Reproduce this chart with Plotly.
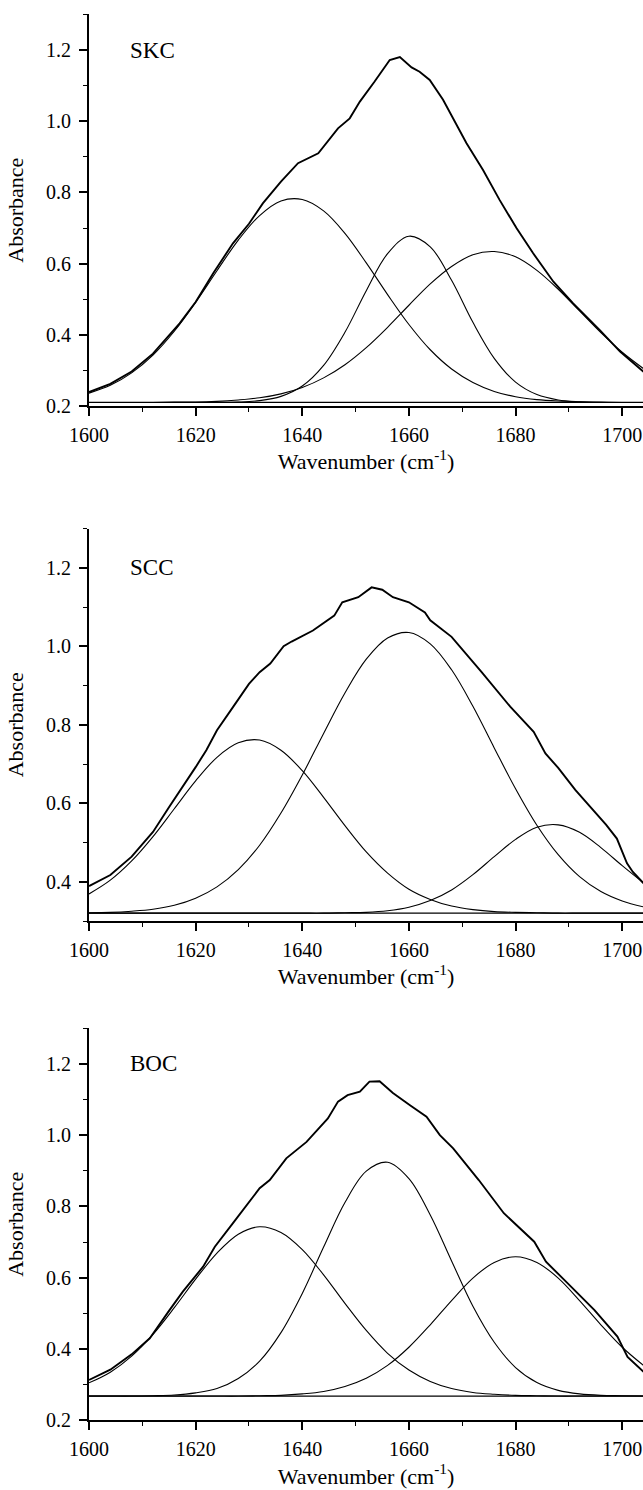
import plotly.graph_objects as go

# ---------------- data ----------------
panel_names = ["SKC", "SCC", "BOC"]

# common wavenumber grid for the fitted component bands
wavenumber = [1600, 1604, 1608, 1612, 1616, 1620, 1624, 1628, 1632, 1636,
              1640, 1644, 1648, 1652, 1656, 1660, 1664, 1668, 1672, 1676,
              1680, 1684, 1688, 1692, 1696, 1700, 1704]

# ---- SKC ----
skc_exp_x = [1600, 1604, 1608, 1612, 1617, 1620, 1623.3, 1627, 1630, 1632.6,
             1636, 1639.2, 1643, 1646.7, 1648.9, 1650.8, 1653.5, 1656.4, 1658.3,
             1660.5, 1662, 1663.9, 1666.4, 1668.5, 1670.8, 1673.9, 1677, 1680.2,
             1683.3, 1687.1, 1690.8, 1695.8, 1699.6, 1704]
skc_exp_y = [0.239, 0.262, 0.297, 0.347, 0.432, 0.492, 0.573, 0.657, 0.712, 0.769,
             0.830, 0.882, 0.910, 0.980, 1.008, 1.055, 1.110, 1.172, 1.180,
             1.151, 1.139, 1.116, 1.060, 1.000, 0.938, 0.863, 0.779, 0.699,
             0.629, 0.549, 0.488, 0.413, 0.353, 0.296]
skc_band1 = [0.236, 0.258, 0.293, 0.343, 0.410, 0.491, 0.580, 0.666, 0.735, 0.776,
             0.780, 0.748, 0.685, 0.602, 0.513, 0.429, 0.358, 0.304, 0.266, 0.241,
             0.226, 0.218, 0.214, 0.212, 0.211, 0.210, 0.210]
skc_band2 = [0.210, 0.210, 0.210, 0.210, 0.210, 0.210, 0.210, 0.211, 0.215, 0.227,
             0.256, 0.314, 0.407, 0.524, 0.628, 0.677, 0.647, 0.553, 0.435, 0.334,
             0.267, 0.232, 0.217, 0.212, 0.210, 0.210, 0.210]
skc_band3 = [0.210, 0.210, 0.210, 0.210, 0.211, 0.211, 0.213, 0.217, 0.223, 0.234,
             0.252, 0.279, 0.316, 0.364, 0.421, 0.483, 0.543, 0.592, 0.625, 0.634,
             0.619, 0.581, 0.528, 0.467, 0.406, 0.351, 0.305]

# ---- SCC ----
scc_exp_x = [1600, 1604, 1608, 1612, 1615, 1618, 1620, 1622, 1624, 1627,
             1630, 1632, 1634, 1636.5, 1638, 1642, 1646, 1647.5, 1650.5, 1653,
             1655, 1657, 1660, 1663, 1664, 1668, 1673.6, 1679, 1683.4, 1685.6,
             1688, 1691.2, 1695, 1697, 1699, 1700.9, 1702, 1704]
scc_exp_y = [0.389, 0.417, 0.464, 0.527, 0.590, 0.650, 0.692, 0.735, 0.786, 0.845,
             0.904, 0.934, 0.956, 1.000, 1.012, 1.040, 1.078, 1.112, 1.125, 1.150,
             1.144, 1.125, 1.112, 1.086, 1.066, 1.024, 0.935, 0.846, 0.782, 0.727,
             0.690, 0.634, 0.574, 0.545, 0.510, 0.447, 0.425, 0.396]
scc_band1 = [0.369, 0.404, 0.453, 0.515, 0.586, 0.657, 0.717, 0.754, 0.761, 0.735,
             0.683, 0.615, 0.543, 0.476, 0.422, 0.381, 0.355, 0.338, 0.329, 0.324,
             0.322, 0.321, 0.320, 0.320, 0.320, 0.320, 0.320]
scc_band2 = [0.321, 0.322, 0.325, 0.330, 0.340, 0.358, 0.387, 0.431, 0.493, 0.575,
             0.672, 0.778, 0.881, 0.967, 1.021, 1.035, 1.006, 0.940, 0.847, 0.741,
             0.637, 0.544, 0.469, 0.413, 0.375, 0.351, 0.336]
scc_band3 = [0.320, 0.320, 0.320, 0.320, 0.320, 0.320, 0.320, 0.320, 0.320, 0.320,
             0.320, 0.320, 0.321, 0.322, 0.326, 0.335, 0.352, 0.379, 0.418, 0.464,
             0.508, 0.539, 0.545, 0.526, 0.487, 0.441, 0.397]

# ---- BOC ----
boc_exp_x = [1600, 1604, 1608, 1611.4, 1615.1, 1617.6, 1621.4, 1623.6, 1627, 1629.5,
             1632, 1633.9, 1637, 1640.8, 1644.8, 1646.7, 1648.5, 1650.8, 1652.6,
             1654.5, 1657, 1660.2, 1663.3, 1665.8, 1668.3, 1673.1, 1677.8, 1683.5,
             1685.7, 1690.4, 1694.8, 1699.1, 1701, 1704]
boc_exp_y = [0.313, 0.342, 0.385, 0.430, 0.509, 0.561, 0.631, 0.687, 0.753, 0.802,
             0.851, 0.874, 0.935, 0.981, 1.047, 1.094, 1.112, 1.122, 1.150,
             1.151, 1.118, 1.084, 1.052, 1.000, 0.963, 0.874, 0.781, 0.701,
             0.645, 0.575, 0.509, 0.435, 0.378, 0.336]
boc_band1 = [0.305, 0.335, 0.380, 0.441, 0.516, 0.596, 0.669, 0.722, 0.743, 0.727,
             0.679, 0.608, 0.528, 0.452, 0.388, 0.341, 0.309, 0.289, 0.278, 0.273,
             0.270, 0.269, 0.268, 0.268, 0.268, 0.268, 0.268]
boc_band2 = [0.268, 0.268, 0.268, 0.269, 0.271, 0.277, 0.289, 0.317, 0.366, 0.446,
             0.556, 0.686, 0.811, 0.899, 0.924, 0.878, 0.776, 0.647, 0.520, 0.419,
             0.348, 0.306, 0.284, 0.274, 0.270, 0.269, 0.268]
boc_band3 = [0.268, 0.268, 0.268, 0.268, 0.268, 0.268, 0.268, 0.268, 0.269, 0.270,
             0.274, 0.281, 0.295, 0.318, 0.354, 0.405, 0.468, 0.536, 0.599, 0.643,
             0.659, 0.643, 0.599, 0.536, 0.468, 0.405, 0.354]

baselines = [0.210, 0.320, 0.268]
y_ranges = [[0.2, 1.3], [0.3, 1.3], [0.2, 1.3]]
x_range = [1600, 1703.9]
x_tick_values = [1600, 1620, 1640, 1660, 1680, 1700]

# ---------------- figure ----------------
W, H = 643, 1490
FONT = "Liberation Serif, Times New Roman, Times, serif"

panels = [
    (skc_exp_x, skc_exp_y, [skc_band1, skc_band2, skc_band3]),
    (scc_exp_x, scc_exp_y, [scc_band1, scc_band2, scc_band3]),
    (boc_exp_x, boc_exp_y, [boc_band1, boc_band2, boc_band3]),
]

# plot-area pixel extents (top, bottom) measured on the reference
pix = [(14.4, 406.0), (528.5, 921.0), (1028.2, 1420.3)]

fig = go.Figure()
layout = dict(
    width=W, height=H, autosize=False,
    margin=dict(l=89, r=0, t=0, b=0, pad=0),
    paper_bgcolor="white", plot_bgcolor="white",
    showlegend=False,
    font=dict(family=FONT, size=20, color="black"),
)
annotations = []

for i, (ex, ey, bands) in enumerate(panels):
    n = "" if i == 0 else str(i + 1)
    xa, ya = "x" + n, "y" + n
    for b in bands:
        fig.add_trace(go.Scatter(x=wavenumber, y=b, mode="lines",
                                 line=dict(color="black", width=1.1, shape="spline"),
                                 xaxis=xa, yaxis=ya, hoverinfo="skip"))
    fig.add_trace(go.Scatter(x=[wavenumber[0], wavenumber[-1]],
                             y=[baselines[i], baselines[i]], mode="lines",
                             line=dict(color="black", width=1.3),
                             xaxis=xa, yaxis=ya, hoverinfo="skip"))
    fig.add_trace(go.Scatter(x=ex, y=ey, mode="lines",
                             line=dict(color="black", width=1.9),
                             xaxis=xa, yaxis=ya, hoverinfo="skip"))

    top, bot = pix[i]
    dom = [(H - bot) / H, (H - top) / H]
    layout["xaxis" + n] = dict(
        domain=[0, 1], range=x_range, anchor=ya,
        showline=True, linecolor="black", linewidth=2,
        showgrid=False, zeroline=False,
        tickmode="array", tickvals=x_tick_values,
        ticks="outside", ticklen=8, tickwidth=1.6, tickcolor="black",
        ticklabelstandoff=2, ticklabeloverflow="allow",
        minor=dict(dtick=10, tick0=1600, ticks="outside", ticklen=4,
                   tickwidth=1.4, tickcolor="black", showgrid=False),
        tickfont=dict(family=FONT, size=20, color="black"),
        title=dict(text="Wavenumber (cm<sup>-1</sup>)",
                   font=dict(family=FONT, size=22, color="black"), standoff=9),
        automargin=False, fixedrange=True,
    )
    layout["yaxis" + n] = dict(
        domain=dom, range=y_ranges[i], anchor=xa,
        showline=True, linecolor="black", linewidth=2,
        showgrid=False, zeroline=False,
        tick0=0, dtick=0.2, tickformat=".1f",
        ticks="outside", ticklen=8, tickwidth=1.6, tickcolor="black",
        ticklabelstandoff=4, ticklabeloverflow="allow",
        minor=dict(dtick=0.1, tick0=0, ticks="outside", ticklen=4,
                   tickwidth=1.4, tickcolor="black", showgrid=False),
        tickfont=dict(family=FONT, size=20, color="black"),
        title=dict(text="Absorbance",
                   font=dict(family=FONT, size=22, color="black"), standoff=16),
        automargin=False, fixedrange=True,
    )
    annotations.append(dict(
        text=panel_names[i], xref=xa, yref=ya, x=1607.3, y=1.2,
        xanchor="left", yanchor="middle", showarrow=False,
        font=dict(family=FONT, size=23, color="black"),
    ))

layout["annotations"] = annotations
fig.update_layout(**layout)
fig.write_html("out.html")
